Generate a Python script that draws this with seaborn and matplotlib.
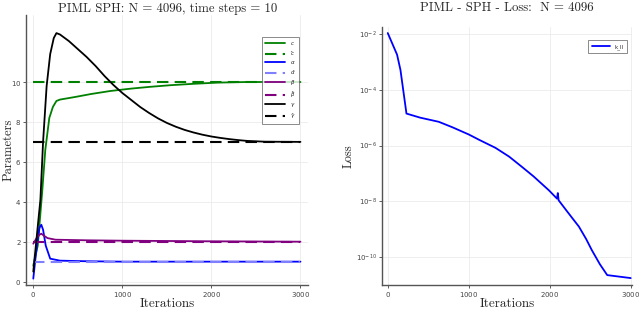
import numpy as np
import pandas as pd
import matplotlib
matplotlib.use("Agg")
import matplotlib.pyplot as plt
import seaborn as sns

# Parameter estimates
iters_c = [0, 50, 100, 135, 180, 220, 260, 300, 470, 650, 865, 1100, 1315, 1540, 1800, 2070, 2400, 3000]
c_vals = [0.8, 1.8, 4.5, 6.6, 8.2, 8.75, 9.05, 9.12, 9.25, 9.4, 9.55, 9.67, 9.76, 9.84, 9.91, 9.97, 10.0, 10.0]

iters_gamma = [0, 80, 110, 150, 190, 230, 260, 300, 400, 500, 600, 700, 800, 900, 1000, 1100, 1200,
               1300, 1400, 1500, 1600, 1700, 1800, 1900, 2000, 2100, 2200, 2300, 2400, 2600, 3000]
gamma_vals = [0.5, 4.1, 7.0, 9.8, 11.4, 12.2, 12.45, 12.38, 12.05, 11.65, 11.25, 10.8, 10.3, 9.85, 9.45,
              9.1, 8.75, 8.45, 8.18, 7.95, 7.76, 7.6, 7.47, 7.36, 7.27, 7.2, 7.14, 7.09, 7.05, 7.01, 7.0]

iters_alpha = [0, 40, 70, 90, 110, 140, 190, 300, 600, 1000, 3000]
alpha_vals = [0.15, 1.8, 2.7, 2.85, 2.6, 1.8, 1.15, 1.05, 1.02, 1.0, 1.0]

iters_beta = [0, 40, 70, 90, 120, 160, 250, 600, 1000, 2000, 3000]
beta_vals = [1.9, 2.2, 2.35, 2.4, 2.3, 2.18, 2.1, 2.07, 2.05, 2.02, 2.0]

true_iters = [0, 3000]
c_true = 10
alpha_true = 1
beta_true = 2
gamma_true = 7

# Loss curve
loss_iters = [0, 115, 157, 231, 400, 630, 800, 1000, 1130, 1330, 1500, 1660, 1800, 1990, 2090, 2100,
              2110, 2200, 2280, 2360, 2450, 2520, 2620, 2710, 3000]
loss_vals = [1.07e-2, 1.8e-3, 5.1e-4, 1.4e-5, 1.0e-5, 7.1e-6, 4.5e-6, 2.5e-6, 1.6e-6, 8.3e-7,
             4.0e-7, 1.7e-7, 7.9e-8, 2.5e-8, 1.26e-8, 2.0e-8, 1.1e-8, 5.0e-9, 2.5e-9, 1.26e-9,
             4.5e-10, 1.8e-10, 5.6e-11, 2.3e-11, 1.8e-11]

sns.set_theme(style="whitegrid")
plt.rcParams["font.family"] = ["DejaVu Sans"]
plt.rcParams["axes.formatter.use_mathtext"] = True

fig = plt.figure(figsize=(6.4, 3.09), dpi=100)
ax1 = fig.add_axes([0.041, 0.077, 0.441, 0.874])
ax2 = fig.add_axes([0.597, 0.077, 0.391, 0.836])

green = "#008000"
purple = "#800080"

lines = [
    (iters_c, c_vals, green, "-", r"$c$"),
    (true_iters, [c_true] * 2, green, "--", r"$\hat{c}$"),
    (iters_alpha, alpha_vals, "#0000ff", "-", r"$\alpha$"),
    (true_iters, [alpha_true] * 2, "#7f7fff", "--", r"$\hat{\alpha}$"),
    (iters_beta, beta_vals, purple, "-", r"$\beta$"),
    (true_iters, [beta_true] * 2, purple, "--", r"$\hat{\beta}$"),
    (iters_gamma, gamma_vals, "black", "-", r"$\gamma$"),
    (true_iters, [gamma_true] * 2, "black", "--", r"$\hat{\gamma}$"),
]
for xs, ys, col, ls, lab in lines:
    if ls == "-":
        sns.lineplot(x=xs, y=ys, ax=ax1, color=col, label=lab, linewidth=1.3)
    else:
        sns.lineplot(x=xs, y=ys, ax=ax1, color=col, label=lab, linewidth=1.5,
                     dashes=False).lines[-1].set_dashes((5.5, 3))

ax1.set_xlim(-79, 3090)
ax1.set_ylim(-0.18, 13.35)
ax1.set_xticks([0, 1000, 2000, 3000])
ax1.set_yticks([0, 2, 4, 6, 8, 10])

sns.lineplot(x=loss_iters, y=loss_vals, ax=ax2, color="#0000ff", linewidth=1.3, label="k_ll")
ax2.set_yscale("log")
ax2.set_xlim(-70, 3020)
ax2.set_ylim(10 ** -11.0, 10 ** -1.75)
ax2.set_xticks([0, 1000, 2000, 3000])
ax2.set_yticks([1e-2, 1e-4, 1e-6, 1e-8, 1e-10])
ax2.minorticks_off()

for ax, title, ylab, ty in [(ax1, "PIML SPH: N = 4096, time steps = 10", "Parameters", 1.0),
                            (ax2, "PIML - SPH - Loss:  N = 4096", "Loss", 1.047)]:
    ax.set_facecolor("white")
    ax.grid(True, color="#ebebeb", linewidth=0.6)
    for side in ["top", "right"]:
        ax.spines[side].set_visible(False)
    for side in ["left", "bottom"]:
        ax.spines[side].set_visible(True)
        ax.spines[side].set_color("#555555")
        ax.spines[side].set_linewidth(1.0)
    ax.tick_params(axis="both", labelsize=5, colors="#444444", length=2, width=0.6,
                   direction="out", pad=1.5, left=True, bottom=True)
    ax.set_title(title, fontfamily="cmr10", fontsize=9.2, pad=2.5, y=ty)
    ax.set_xlabel("Iterations", fontfamily="cmr10", fontsize=9.5, labelpad=-1)
    ax.set_ylabel(ylab, fontfamily="cmr10", fontsize=9, labelpad=1)

ax1.yaxis.set_label_coords(-0.043, 0.5)

leg1 = ax1.legend(loc="upper right", fontsize=4, handlelength=3.6, labelspacing=0.3,
                  borderpad=0.6, frameon=True, fancybox=False, edgecolor="#555555",
                  bbox_to_anchor=(0.975, 0.93))
leg1.get_frame().set_linewidth(0.6)
leg2 = ax2.legend(loc="upper right", fontsize=4, handlelength=3.2, borderpad=0.7,
                  frameon=True, fancybox=False, edgecolor="#555555",
                  bbox_to_anchor=(0.99, 0.96))
leg2.get_frame().set_linewidth(0.6)

fig.savefig("out.png", dpi=100)
